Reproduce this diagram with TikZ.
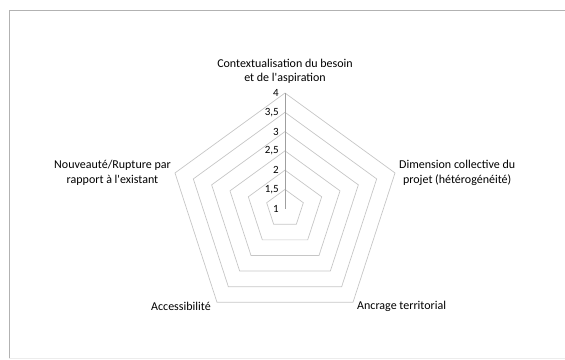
\documentclass[tikz,border=0pt]{standalone}
\usepackage{fontspec}
\setmainfont{Carlito}
\usetikzlibrary{calc}
\begin{document}
\begin{tikzpicture}[x=1pt,y=1pt,
  ring/.style={gray!45,line width=0.7pt},
  axlabel/.style={font=\fontsize{12}{14.5}\selectfont,align=center,inner sep=1pt},
  ticklabel/.style={font=\fontsize{11}{13}\selectfont,anchor=east,inner sep=1pt}]
\useasboundingbox (0,0) rectangle (565,359);
\draw[gray!60,line width=0.8pt] (9,1) -- (9,349) -- (565,349);
\draw[gray!15] (9,1) -- (565,1);
\coordinate (O) at (285,150.3);
% rings 1,5 ... 4
  \foreach \i in {1,...,6}
    \draw[ring] (O) +(90:\i*19.28) -- +(162:\i*19.28) -- +(234:\i*19.28)
      -- +(306:\i*19.28) -- +(18:\i*19.28) -- cycle;
  \coordinate (ctx) at ($(O)+(90:115.7)$);
  \coordinate (dim) at ($(O)+(18:115.7)$);
  \coordinate (anc) at ($(O)+(306:115.7)$);
  \coordinate (acc) at ($(O)+(234:115.7)$);
  \coordinate (nou) at ($(O)+(162:115.7)$);
  \draw[gray!75,line width=0.8pt] (O) -- (ctx);
% value axis
  \foreach \v [count=\i from 0] in {1,{1,5},2,{2,5},3,{3,5},4}
    \node[ticklabel] (t\i) at ($(O)+(-5,\i*19.28)$) {\v};
% axis names
  \node[axlabel,anchor=south] (lctx) at ($(ctx)+(0,8)$) {Contextualisation du besoin\\et de l\textquotesingle aspiration};
  \node[axlabel,anchor=west] (ldim) at ($(dim)+(3,0)$) {Dimension collective du\\projet (hétérogénéité)};
  \node[axlabel,anchor=west] (lanc) at ($(anc)+(3,-4)$) {Ancrage territorial};
  \node[axlabel,anchor=east] (lacc) at ($(acc)+(-5,-4)$) {Accessibilité};
  \node[axlabel,anchor=east] (lnou) at ($(nou)+(-3,0)$) {Nouveauté/Rupture par\\rapport à l\textquotesingle existant};
\end{tikzpicture}
\end{document}
